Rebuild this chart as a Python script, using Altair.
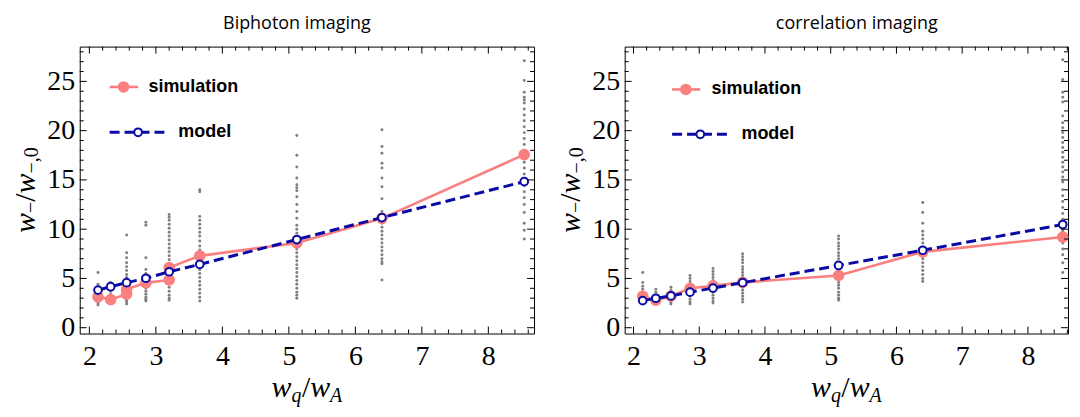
import altair as alt
import pandas as pd

# ---------------- data ----------------
bi_x = [2.13, 2.32, 2.56, 2.85, 3.20, 3.66, 5.12, 6.40, 8.54]
bi_model_y = [3.82, 4.16, 4.57, 5.02, 5.68, 6.43, 8.95, 11.18, 14.83]
bi_sim_x = [2.13, 2.32, 2.56, 2.56, 2.85, 3.20, 3.20, 3.66, 5.12, 6.40, 8.54]
bi_sim_y = [3.13, 2.86, 3.40, 3.90, 4.55, 4.85, 6.10, 7.29, 8.60, 11.10, 17.57]
bi_spread = [
    [5.6, 4.4, 4.1, 3.8, 3.5, 3.3, 3.1, 2.9, 2.7, 2.5, 2.3],
    [4.6, 4.3, 4.0, 3.7, 3.4, 3.1, 2.9, 2.7, 2.5],
    [9.4, 7.6, 7.1, 6.6, 6.2, 5.8, 5.4, 5.1, 4.8, 4.5, 4.2, 3.9, 3.6, 3.3, 3.0, 2.8, 2.6, 2.4],
    [10.7, 10.4, 7.1, 5.9, 5.5, 5.2, 4.9, 4.6, 4.3, 4.0, 3.7, 3.4, 3.1, 2.9, 2.7],
    [11.5, 11.2, 10.9, 10.5, 10.1, 9.7, 9.3, 8.9, 8.5, 8.1, 7.7, 7.3, 6.9, 6.5, 6.1,
     5.7, 5.3, 4.9, 4.5, 4.1, 3.7, 3.3, 3.0, 2.8],
    [14.0, 13.8, 11.3, 10.9, 10.5, 10.1, 9.7, 9.3, 8.8, 8.3, 7.9, 7.5, 7.1, 6.7, 6.3,
     5.9, 5.5, 5.1, 4.7, 4.3, 3.9, 3.5, 3.1, 2.7],
    [19.5, 17.5, 16.3, 15.2, 14.5, 14.2, 13.9, 13.3, 12.5, 11.8, 11.1, 10.4, 10.0, 9.6,
     9.2, 8.8, 8.4, 8.0, 7.6, 7.2, 6.8, 6.4, 6.0, 5.6, 5.2, 4.8, 4.4, 4.0, 3.6, 3.3, 3.0],
    [20.1, 18.4, 17.7, 16.7, 16.2, 15.2, 14.3, 13.1, 11.8, 11.4, 11.0, 10.6, 10.2, 9.8,
     9.4, 9.0, 8.6, 8.2, 7.8, 7.4, 7.0, 6.7, 6.5, 4.85],
    [27.1, 25.1, 23.9, 23.4, 23.1, 22.8, 22.2, 21.6, 21.0, 20.4, 19.8, 19.2, 18.6, 18.0,
     17.4, 16.8, 16.2, 15.6, 15.0, 14.4, 13.8, 13.2, 12.5, 11.7, 10.6, 9.9, 9.0],
]

co_x = [2.14, 2.34, 2.57, 2.86, 3.21, 3.66, 5.12, 6.40, 8.53]
co_model_y = [2.75, 2.99, 3.23, 3.61, 4.02, 4.57, 6.32, 7.86, 10.47]
co_sim_y = [3.20, 2.80, 3.20, 4.00, 4.25, 4.60, 5.30, 7.70, 9.20]
co_spread = [
    [5.6, 4.6, 4.2, 3.9, 3.6, 3.3, 3.0, 2.7, 2.5],
    [3.9, 3.6, 3.3, 3.0, 2.7, 2.5],
    [4.1, 3.8, 3.5, 3.2, 2.9, 2.6, 2.4],
    [5.3, 5.0, 4.7, 4.4, 4.1, 3.8, 3.5, 3.2, 2.9, 2.6, 2.4],
    [6.0, 5.7, 5.4, 5.1, 4.8, 4.5, 4.2, 3.9, 3.6, 3.3, 3.0, 2.7, 2.5],
    [7.5, 7.2, 6.9, 6.6, 6.2, 5.9, 5.6, 5.3, 5.0, 4.7, 4.4, 4.1, 3.8, 3.5, 3.2, 2.9, 2.6],
    [9.3, 9.0, 8.6, 8.3, 8.0, 7.6, 7.3, 7.0, 6.6, 6.3, 6.0, 5.6, 5.3, 5.0, 4.6, 4.3,
     4.0, 3.6, 3.3, 3.0, 2.8],
    [12.7, 11.7, 10.6, 9.8, 9.4, 9.0, 8.6, 8.2, 7.8, 7.4, 7.0, 6.6, 6.2, 5.8, 5.4, 5.0, 4.7],
    [27.2, 25.2, 23.9, 23.4, 22.9, 21.5, 20.8, 20.3, 19.8, 19.3, 18.8, 18.3, 17.8, 17.3,
     16.8, 16.3, 15.8, 15.3, 14.8, 14.0, 13.4, 12.8, 12.2, 11.6, 11.0, 10.4, 9.8, 9.2,
     8.6, 8.0, 7.4, 6.6, 5.6],
]

titles = ["Biphoton imaging", "correlation imaging"]
legend_labels = ["simulation", "model"]
x_major = [2, 3, 4, 5, 6, 7, 8]
y_major = [0, 5, 10, 15, 20, 25]
x_minor = [round(2 + 0.2 * i, 1) for i in range(34) if i % 5]
y_minor = [v for v in range(1, 29) if v % 5]

PINK = "#FA8080"
BLUE = "#0A0AA5"
GRAY = "#808080"
SERIF = "Liberation Serif"

Y_DOM = [-0.59, 28.53]


def one():
    return pd.DataFrame({"a": [0]})


def panel(title, tcx, xs, model_y, sim_x, sim_y, spread, W, H, xdom, leg):
    xaxis = alt.Axis(values=x_major, ticks=False, domain=False, grid=False, title=None,
                     labelFont=SERIF, labelFontSize=28, labelColor="black",
                     labelPadding=9, labelOverlap=False, labelFlush=False)
    yaxis = alt.Axis(values=y_major, ticks=False, domain=False, grid=False, title=None,
                     labelFont=SERIF, labelFontSize=28, labelColor="black",
                     labelPadding=5, labelOverlap=False, labelFlush=False)

    def X(f):
        return alt.X(f"{f}:Q", scale=alt.Scale(domain=xdom, nice=False, zero=False), axis=xaxis)

    def Y(f):
        return alt.Y(f"{f}:Q", scale=alt.Scale(domain=Y_DOM, nice=False, zero=False), axis=yaxis)

    sp = pd.DataFrame([(x, v) for x, col in zip(xs, spread) for v in col], columns=["x", "y"])
    sim = pd.DataFrame({"x": sim_x, "y": sim_y, "i": list(range(len(sim_x)))})
    mod = pd.DataFrame({"x": xs, "y": model_y, "i": list(range(len(xs)))})

    layers = [
        alt.Chart(sp).mark_circle(size=9, color=GRAY, opacity=1).encode(x=X("x"), y=Y("y")),
        alt.Chart(sim).mark_line(color=PINK, strokeWidth=2.6).encode(
            x=X("x"), y=Y("y"), order="i:Q"),
        alt.Chart(sim).mark_circle(size=135, color=PINK, opacity=1).encode(x=X("x"), y=Y("y")),
        alt.Chart(mod).mark_line(color=BLUE, strokeWidth=3, strokeDash=[10, 5]).encode(
            x=X("x"), y=Y("y"), order="i:Q"),
        alt.Chart(mod).mark_point(shape="circle", filled=True, fill="white", stroke=BLUE,
                                  strokeWidth=2, size=60, opacity=1).encode(x=X("x"), y=Y("y")),
    ]

    # frame ticks (inward)
    for vals, ln in ((x_major, 7), (x_minor, 4)):
        d = pd.DataFrame({"v": vals})
        layers.append(alt.Chart(d).mark_rule(color="black", strokeWidth=1).encode(
            x=X("v"), y=alt.value(H), y2=alt.value(H - ln)))
        layers.append(alt.Chart(d).mark_rule(color="black", strokeWidth=1).encode(
            x=X("v"), y=alt.value(0), y2=alt.value(ln)))
    for vals, ln in ((y_major, 7), (y_minor, 4)):
        d = pd.DataFrame({"v": vals})
        layers.append(alt.Chart(d).mark_rule(color="black", strokeWidth=1).encode(
            y=Y("v"), x=alt.value(0), x2=alt.value(ln)))
        layers.append(alt.Chart(d).mark_rule(color="black", strokeWidth=1).encode(
            y=Y("v"), x=alt.value(W), x2=alt.value(W - ln)))

    # legend
    (sx0, sx1, scx, sy, stx), (mx0, mx1, mcx, my, mtx) = leg
    layers += [
        alt.Chart(one()).mark_rule(color=PINK, strokeWidth=2.6).encode(
            x=alt.value(sx0), x2=alt.value(sx1), y=alt.value(sy)),
        alt.Chart(one()).mark_circle(size=135, color=PINK, opacity=1).encode(
            x=alt.value(scx), y=alt.value(sy)),
        alt.Chart(one()).mark_text(font="Liberation Sans", fontWeight="bold", fontSize=18,
                                   align="left", baseline="middle", color="black").encode(
            x=alt.value(stx), y=alt.value(sy), text=alt.value(legend_labels[0])),
        alt.Chart(one()).mark_rule(color=BLUE, strokeWidth=3, strokeDash=[10, 5]).encode(
            x=alt.value(mx0), x2=alt.value(mx1), y=alt.value(my)),
        alt.Chart(one()).mark_point(shape="circle", filled=True, fill="white", stroke=BLUE,
                                    strokeWidth=2, size=60, opacity=1).encode(
            x=alt.value(mcx), y=alt.value(my)),
        alt.Chart(one()).mark_text(font="Liberation Sans", fontWeight="bold", fontSize=18,
                                   align="left", baseline="middle", color="black").encode(
            x=alt.value(mtx), y=alt.value(my), text=alt.value(legend_labels[1])),
    ]

    # panel title
    layers.append(alt.Chart(one()).mark_text(font="Open Sans", fontSize=18, align="center",
                                             baseline="alphabetic", color="black").encode(
        x=alt.value(tcx), y=alt.value(-18), text=alt.value(title)))

    # x axis title  w_q / w_A
    xc = W / 2 - 35.5
    xt = [("w", 30, 0, 0, "italic"), ("q", 20, 20, 5, "italic"), ("/", 30, 30.5, 0, "normal"),
          ("w", 30, 38.8, 0, "italic"), ("A", 20, 58.8, 5, "italic")]
    for t, fs, dx, dy, st in xt:
        layers.append(alt.Chart(one()).mark_text(font=SERIF, fontSize=fs, fontStyle=st,
                                                 align="left", baseline="alphabetic",
                                                 color="black").encode(
            x=alt.value(xc + dx), y=alt.value(352 + dy), text=alt.value(t)))

    # y axis title  w_- / w_{-,0}  (rotated)
    yc = H / 2 + 43
    yt = [("w", 30, 0, 0, "italic"), ("\u2212", 20, 20, 2, "normal"), ("/", 30, 31.3, 0, "normal"),
          ("w", 30, 39.6, 0, "italic"), ("\u2212,0", 20, 59.6, 3, "normal")]
    for t, fs, dx, dy, st in yt:
        layers.append(alt.Chart(one()).mark_text(font=SERIF, fontSize=fs, fontStyle=st,
                                                 align="left", baseline="alphabetic", angle=270,
                                                 color="black").encode(
            x=alt.value(-44.5 + dy), y=alt.value(yc - dx), text=alt.value(t)))

    return alt.layer(*layers).properties(width=W, height=H)


H = 288
left = panel(titles[0], 218, bi_x, bi_model_y, bi_sim_x, bi_sim_y, bi_spread, 456, H,
             [1.855, 8.687],
             ((30, 58.6, 44, 40.5, 69), (30, 86, 58.6, 86, 99)))
right = panel(titles[1], 233, co_x, co_model_y, co_x, co_sim_y, co_spread, 445, H,
              [1.866, 8.61],
              ((47.6, 75.9, 61.4, 43, 87.2), (47.6, 104.5, 75.9, 88, 117.2)))

chart = alt.hconcat(left, right, spacing=91, bounds="flush").properties(
    padding={"left": 3, "top": 5, "right": 0, "bottom": 0}
).configure_view(stroke="black", strokeWidth=1)

chart.save("out.html", embed_options={"renderer": "svg", "actions": False})
